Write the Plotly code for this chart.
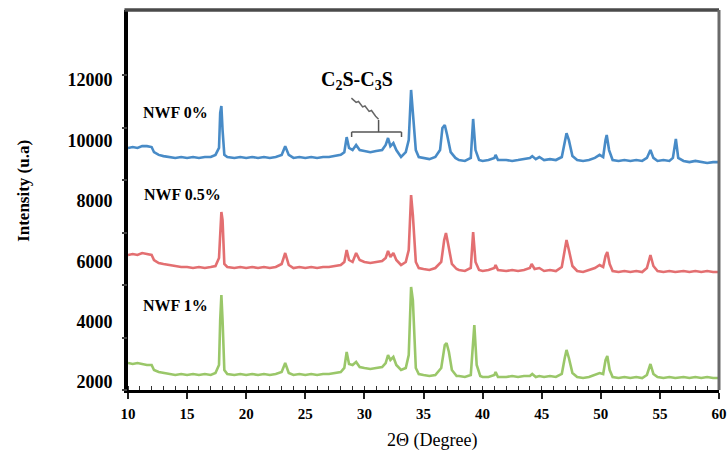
import plotly.graph_objects as go

# ---------------- data ----------------
x_blue = [10.0, 10.4, 10.8, 11.2, 11.6, 12.0, 12.2, 12.6, 13.0, 13.5, 14.0, 14.5, 15.0, 15.5, 16.0, 16.5, 17.0, 17.4,
          17.7, 17.8, 17.9, 18.0, 18.15, 18.4, 19.0, 19.5, 20.0, 20.5, 21.0, 21.5, 22.0, 22.5, 23.0, 23.3, 23.6, 24.0,
          24.5, 25.0, 25.5, 26.0, 26.5, 27.0, 27.5, 28.0, 28.3, 28.5, 28.7, 29.0, 29.3, 29.6, 30.0, 30.5, 31.0, 31.5,
          31.8, 32.0, 32.2, 32.45, 32.7, 33.1, 33.5, 33.75, 33.95, 34.1, 34.35, 34.6, 35.0, 35.5, 36.0, 36.4, 36.6,
          36.8, 37.0, 37.3, 37.7, 38.0, 38.5, 39.0, 39.2, 39.4, 39.7, 40.0, 40.5, 41.0, 41.1, 41.3, 42.0, 42.5, 43.0,
          43.5, 44.0, 44.2, 44.5, 44.8, 45.2, 45.7, 46.2, 46.7, 46.95, 47.1, 47.3, 47.6, 48.0, 48.5, 49.0, 49.5, 49.9,
          50.2, 50.4, 50.5, 50.7, 51.0, 51.5, 52.0, 52.5, 53.0, 53.5, 53.9, 54.2, 54.45, 54.8, 55.3, 55.8, 56.1, 56.35,
          56.55, 57.0, 57.5, 58.0, 58.5, 59.0, 59.5, 60.0]
y_blue = [9750, 9780, 9750, 9810, 9810, 9780, 9610, 9520, 9480, 9450, 9420, 9450, 9420, 9450, 9420, 9450, 9450, 9520,
          9750, 10910, 11140, 10340, 9520, 9450, 9420, 9450, 9420, 9450, 9420, 9450, 9420, 9450, 9520, 9810, 9520, 9420,
          9450, 9420, 9450, 9420, 9450, 9450, 9480, 9520, 9610, 10110, 9750, 9680, 9850, 9680, 9650, 9610, 9650, 9680,
          9850, 10080, 9810, 9910, 9680, 9450, 9610, 10010, 11670, 10840, 9680, 9450, 9420, 9380, 9450, 9680, 10410,
          10510, 10180, 9610, 9420, 9350, 9320, 9420, 10710, 9680, 9350, 9320, 9350, 9420, 9520, 9350, 9350, 9320, 9350,
          9380, 9420, 9480, 9380, 9450, 9350, 9380, 9350, 9450, 9950, 10240, 10010, 9480, 9350, 9320, 9350, 9420, 9520,
          9450, 10010, 10180, 9680, 9350, 9320, 9350, 9320, 9350, 9320, 9420, 9680, 9420, 9320, 9350, 9320, 9420, 10050,
          9420, 9320, 9280, 9320, 9280, 9250, 9280, 9280]

x_red = [10.0, 10.4, 10.8, 11.2, 11.6, 12.0, 12.2, 12.6, 13.0, 13.5, 14.0, 14.5, 15.0, 15.5, 16.0, 16.5, 17.0, 17.4,
         17.7, 17.8, 17.9, 18.0, 18.15, 18.4, 19.0, 19.5, 20.0, 20.5, 21.0, 21.5, 22.0, 22.5, 23.0, 23.3, 23.6, 24.0,
         24.5, 25.0, 25.5, 26.0, 26.5, 27.0, 27.5, 28.0, 28.3, 28.5, 28.7, 29.0, 29.3, 29.6, 30.0, 30.5, 31.0, 31.5,
         31.8, 32.0, 32.2, 32.45, 32.7, 33.1, 33.5, 33.75, 33.95, 34.1, 34.35, 34.6, 35.0, 35.5, 36.0, 36.5, 36.75,
         36.9, 37.1, 37.4, 37.8, 38.0, 38.5, 39.0, 39.2, 39.4, 39.7, 40.0, 40.5, 41.0, 41.1, 41.3, 42.0, 42.5, 43.0,
         43.5, 44.0, 44.15, 44.4, 44.8, 45.2, 45.7, 46.2, 46.7, 46.95, 47.1, 47.3, 47.6, 48.0, 48.5, 49.0, 49.5, 49.9,
         50.2, 50.4, 50.55, 50.75, 51.0, 51.5, 52.0, 52.5, 53.0, 53.5, 53.9, 54.2, 54.45, 54.8, 55.3, 55.8, 56.3,
         57.0, 57.5, 58.0, 58.5, 59.0, 59.5, 60.0]
y_red = [6205, 6238, 6205, 6271, 6238, 6205, 6039, 5940, 5907, 5874, 5841, 5808, 5808, 5774, 5808, 5774, 5808, 5841,
         6106, 7198, 7629, 7364, 5907, 5808, 5774, 5808, 5774, 5808, 5774, 5808, 5774, 5808, 5907, 6271, 5874, 5774,
         5808, 5774, 5808, 5774, 5808, 5808, 5841, 5874, 5973, 6370, 6039, 5973, 6271, 6039, 5973, 5940, 5973, 6006,
         6106, 6337, 6139, 6271, 6039, 5874, 5973, 6370, 8191, 7529, 5973, 5774, 5741, 5708, 5774, 5973, 6700,
         6933, 6536, 5907, 5741, 5708, 5675, 5774, 6966, 5973, 5708, 5675, 5708, 5774, 5874, 5708, 5675, 5708, 5675,
         5708, 5774, 5907, 5741, 5774, 5675, 5708, 5675, 5808, 6370, 6700, 6370, 5841, 5675, 5642, 5708, 5774, 5874,
         5808, 6172, 6304, 5907, 5675, 5642, 5675, 5642, 5675, 5642, 5774, 6205, 5841, 5675, 5642, 5675, 5642,
         5675, 5642, 5675, 5642, 5675, 5642, 5642]

x_green = [10.0, 10.4, 10.8, 11.2, 11.6, 12.0, 12.2, 12.6, 13.0, 13.5, 14.0, 14.5, 15.0, 15.5, 16.0, 16.5, 17.0, 17.4,
           17.7, 17.8, 17.9, 18.0, 18.15, 18.4, 19.0, 19.5, 20.0, 20.5, 21.0, 21.5, 22.0, 22.5, 23.0, 23.3, 23.6, 24.0,
           24.5, 25.0, 25.5, 26.0, 26.5, 27.0, 27.5, 28.0, 28.3, 28.5, 28.7, 29.0, 29.3, 29.6, 30.0, 30.5, 31.0, 31.5,
           31.8, 32.0, 32.2, 32.45, 32.7, 33.1, 33.5, 33.75, 33.95, 34.1, 34.35, 34.6, 35.0, 35.5, 36.0, 36.5, 36.8,
           36.95, 37.15, 37.4, 37.8, 38.0, 38.5, 39.0, 39.3, 39.5, 39.8, 40.0, 40.5, 41.0, 41.1, 41.3, 42.0, 42.5, 43.0,
           43.5, 44.0, 44.2, 44.5, 44.8, 45.2, 45.7, 46.2, 46.7, 46.95, 47.1, 47.3, 47.6, 48.0, 48.5, 49.0, 49.5, 49.9,
           50.2, 50.4, 50.55, 50.75, 51.0, 51.5, 52.0, 52.5, 53.0, 53.5, 53.9, 54.2, 54.45, 54.8, 55.3, 55.8, 56.3,
           57.0, 57.5, 58.0, 58.5, 59.0, 59.5, 60.0]
y_green = [2629, 2596, 2629, 2596, 2563, 2563, 2397, 2331, 2298, 2265, 2232, 2265, 2232, 2265, 2232, 2265, 2232, 2298,
           2563, 4053, 4880, 4053, 2397, 2265, 2232, 2265, 2232, 2265, 2232, 2265, 2232, 2265, 2331, 2629, 2298, 2232,
           2265, 2232, 2265, 2232, 2265, 2265, 2298, 2331, 2464, 2993, 2596, 2563, 2662, 2497, 2464, 2430, 2464, 2497,
           2629, 2894, 2728, 2828, 2563, 2397, 2464, 2894, 5145, 4715, 2464, 2265, 2232, 2199, 2232, 2464, 3225,
           3291, 2993, 2397, 2199, 2199, 2165, 2232, 3887, 2563, 2199, 2165, 2165, 2232, 2331, 2165, 2165, 2199, 2165,
           2199, 2199, 2265, 2165, 2199, 2165, 2199, 2165, 2265, 2795, 3060, 2795, 2298, 2165, 2132, 2165, 2232, 2298,
           2265, 2728, 2861, 2397, 2165, 2132, 2165, 2132, 2165, 2132, 2232, 2596, 2265, 2165, 2132, 2165, 2132,
           2165, 2132, 2165, 2132, 2165, 2132, 2132]

series_names = ["NWF 0%", "NWF 0.5%", "NWF 1%"]
y_tick_vals = [2000, 4000, 6000, 8000, 10000, 12000]
y_tick_text = ["2000", "4000", "6000", "8000", "10000", "12000"]
x_tick_vals = [10, 15, 20, 25, 30, 35, 40, 45, 50, 55, 60]
x_tick_text = ["10", "15", "20", "25", "30", "35", "40", "45", "50", "55", "60"]

# ---------------- figure ----------------
SERIF = "Liberation Serif"
colors = ["#2f7cc0", "#e05c5e", "#8dc055"]

fig = go.Figure()
for xs, ys, name, c in zip([x_blue, x_red, x_green], [y_blue, y_red, y_green], series_names, colors):
    fig.add_trace(go.Scatter(x=xs, y=ys, mode="lines", name=name,
                             line=dict(color=c, width=2.6), opacity=0.88,
                             showlegend=False, hoverinfo="skip"))

# helper trace so the tick-mark-only overlay axis is drawn
fig.add_trace(go.Scatter(x=[None], y=[None], yaxis="y2", showlegend=False, hoverinfo="skip"))

fig.update_layout(
    width=728, height=460,
    margin=dict(l=128, r=9, t=10, b=70, autoexpand=False),
    paper_bgcolor="white", plot_bgcolor="white",
    font=dict(family=SERIF, color="black"),
    xaxis=dict(range=[10, 60], tickvals=x_tick_vals, ticktext=x_tick_text, showgrid=False, zeroline=False,
               automargin=False,
               showline=True, linecolor="black", linewidth=3,
               ticks="outside", ticklen=6, tickwidth=1.5, tickcolor="#222",
               minor=dict(dtick=1, ticks="inside", ticklen=4, tickwidth=1.2, tickcolor="#333"),
               tickfont=dict(family=SERIF, size=15, weight="bold", color="black"),
               ticklabelstandoff=2),
    yaxis=dict(range=[1735, 14318], tickvals=y_tick_vals, ticktext=y_tick_text,
               showgrid=False, zeroline=False, automargin=False,
               showline=True, linecolor="black", linewidth=4, ticks="",
               tickfont=dict(family=SERIF, size=18, weight="bold", color="black"),
               ticklabelstandoff=8),
    yaxis2=dict(overlaying="y", side="left", range=[0, 7.238], tickvals=[0, 1, 2, 3, 4, 5, 6],
                automargin=False,
                showticklabels=False, showgrid=False, zeroline=False, showline=False,
                ticks="outside", ticklen=5, tickwidth=1.5, tickcolor="#444"),
)

# top / right frame in dark grey
fig.add_shape(type="line", xref="paper", yref="paper", x0=-0.006, x1=1.0, y0=1, y1=1,
              line=dict(color="#4a4a4a", width=3.5))
fig.add_shape(type="line", xref="paper", yref="paper", x0=1.0, x1=1.0, y0=0, y1=1,
              line=dict(color="#6a6a6a", width=3))

# bracket + squiggle for the C2S-C3S label
br_x = [28.92, 31.2, 33.14]
br_y_line, br_y_end, br_y_top = 10277, 10112, 10675
line_style = dict(color="#555", width=1.5)
fig.add_shape(type="line", x0=br_x[0], x1=br_x[2], y0=br_y_line, y1=br_y_line, line=line_style)
fig.add_shape(type="line", x0=br_x[1], x1=br_x[1], y0=br_y_line, y1=br_y_top, line=line_style)
fig.add_shape(type="line", x0=br_x[0], x1=br_x[0], y0=br_y_line, y1=br_y_end, line=line_style)
fig.add_shape(type="line", x0=br_x[2], x1=br_x[2], y0=br_y_line, y1=br_y_end, line=line_style)
fig.add_shape(type="path",
              path="M 28.9,11400 L 29.3,11260 L 29.5,11290 L 29.85,11110 L 30.05,11140 L 30.4,10960 "
                   "L 30.6,10990 L 30.95,10800 L 31.2,10700",
              line=dict(color="#666", width=1.5))

# text annotations
lab_font = dict(family=SERIF, size=16, weight="bold", color="black")
fig.add_annotation(x=14.06, y=10940, text="NWF 0%", showarrow=False, font=lab_font,
                   xanchor="center", yanchor="middle")
fig.add_annotation(x=14.57, y=8225, text="NWF 0.5%", showarrow=False, font=lab_font,
                   xanchor="center", yanchor="middle")
fig.add_annotation(x=14.06, y=4549, text="NWF 1%", showarrow=False, font=lab_font,
                   xanchor="center", yanchor="middle")
fig.add_annotation(x=29.4, y=12000, text="C<sub>2</sub>S-C<sub>3</sub>S", showarrow=False,
                   xanchor="center", yanchor="middle",
                   font=dict(family=SERIF, size=20, weight="bold", color="black"))

# axis titles
fig.add_annotation(xref="paper", yref="paper", x=0.515, y=-0.132, text="2\u0398 (Degree)",
                   xanchor="center", yanchor="middle",
                   showarrow=False, font=dict(family=SERIF, size=18, color="black"))
fig.add_annotation(xref="paper", yref="paper", x=-0.176, y=0.524, text="Intensity (u.a)",
                   xanchor="center", yanchor="middle",
                   textangle=-90, showarrow=False,
                   font=dict(family=SERIF, size=17, weight="bold", color="black"))

fig.write_html("out.html")
